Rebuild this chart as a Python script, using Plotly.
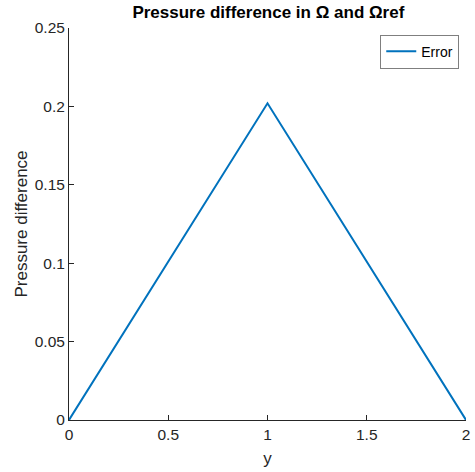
import plotly.graph_objects as go

x_vals = [0, 1, 2]
err_vals = [0, 0.202, 0]
x_ticks = [0, 0.5, 1, 1.5, 2]
x_tick_text = ["0", "0.5", "1", "1.5", "2"]
y_ticks = [0, 0.05, 0.1, 0.15, 0.2, 0.25]
y_tick_text = ["0", "0.05", "0.1", "0.15", "0.2", "0.25"]

fig = go.Figure()
fig.add_trace(go.Scatter(x=x_vals, y=err_vals, mode="lines", name="Error",
                         line=dict(color="#0072BD", width=2)))

axcol = "#262626"
fig.update_layout(
    width=475, height=472,
    margin=dict(l=69, r=9, t=28, b=52, autoexpand=False),
    paper_bgcolor="white", plot_bgcolor="white",
    font=dict(family="Liberation Sans, Arial, sans-serif", size=15.5, color=axcol),
    title=dict(text="<b>Pressure difference in Ω and Ωref</b>", x=0.565, xanchor="center",
               y=0.975, yanchor="middle", font=dict(size=17, color="black")),
    showlegend=True,
    legend=dict(x=0.983, y=0.983, xanchor="right", yanchor="top",
                bordercolor="#7f7f7f", borderwidth=1, bgcolor="white",
                font=dict(size=14, color="black"), itemwidth=30,
                tracegroupgap=0),
    xaxis=dict(range=[0, 2], tickvals=x_ticks, ticktext=x_tick_text, automargin=False,
               showgrid=False, zeroline=False, showline=True, linecolor=axcol,
               linewidth=1, ticks="inside", ticklen=5, tickcolor=axcol,
               title=dict(text="y", font=dict(size=17), standoff=10)),
    yaxis=dict(range=[0, 0.25], tickvals=y_ticks, ticktext=y_tick_text, automargin=False,
               showgrid=False, zeroline=False, showline=True, linecolor=axcol,
               linewidth=1, ticks="inside", ticklen=5, tickcolor=axcol,
               title=dict(text="Pressure difference", font=dict(size=17), standoff=2)),
)
fig.write_html("out.html")
